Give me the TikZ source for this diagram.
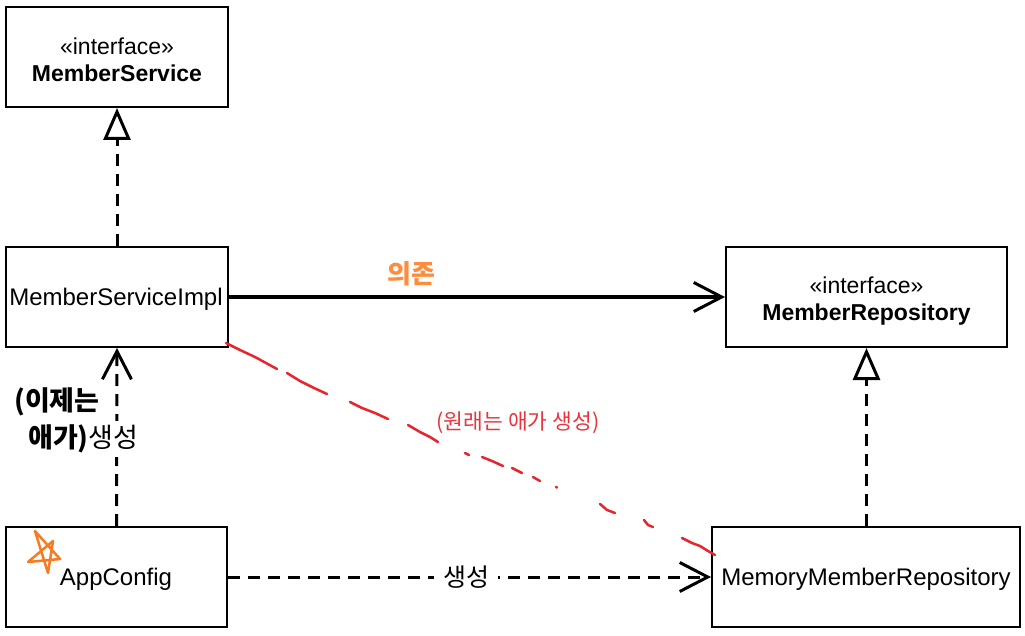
\documentclass[tikz,border=0pt]{standalone}
\usepackage{fontspec}
\setmainfont{Liberation Sans}
\newfontfamily\kr{Noto Sans CJK KR}
\usetikzlibrary{arrows.meta}
\definecolor{redline}{RGB}{232,36,44}
\definecolor{redtext}{RGB}{232,52,62}
\definecolor{orangetext}{RGB}{255,139,61}
\definecolor{starorange}{RGB}{246,124,36}
\tikzset{
  umlbox/.style={draw, line width=2pt, inner sep=0pt, minimum height=100pt},
  boxtext/.style={inner sep=0pt, font=\fontsize{24}{28}\selectfont},
  ifacetext/.style={inner sep=0pt, align=center, font=\fontsize{23}{27}\selectfont},
  conn/.style={line width=3pt},
  dashconn/.style={line width=3pt, dash pattern=on 12pt off 8pt},
  realize/.style={-{Triangle[open, length=32pt, width=27pt, line width=3pt]}},
  openarrow/.style={-{Straight Barb[length=28pt, width=29pt, line width=3pt]}},
  krlabel/.style={font=\kr\fontsize{25}{29}\selectfont, inner sep=0pt},
  redseg/.style={draw=redline, line width=2.5pt, line cap=round, line join=round}
}
\begin{document}
\begin{tikzpicture}[x=1pt,y=-1pt]
\useasboundingbox[fill=white] (0,0) rectangle (1025,636);

% boxes
\node[umlbox, minimum width=222pt] (ms) at (117,57) {};
\node[umlbox, minimum width=222pt] (impl) at (117,297) {};
\node[umlbox, minimum width=281pt] (repo) at (866.5,297) {};
\node[umlbox, minimum width=221pt] (app) at (116.5,577) {};
\node[umlbox, minimum width=308pt] (mem) at (866,577) {};

% box texts
\node[ifacetext] (ms-t) at (117,60) {«interface»\\\textbf{MemberService}};
\node[boxtext] (impl-t) at (116,299) {MemberServiceImpl};
\node[ifacetext] (repo-t) at (866.5,301) {«interface»\\\textbf{MemberRepository}};
\node[boxtext] (app-t) at (116,579) {AppConfig};
\node[boxtext] (mem-t) at (866,579) {MemoryMemberRepository};

% connectors
\draw[dashconn, realize] (impl.north) -- (ms.south);
\draw[conn, openarrow] (impl.east) -- (repo.west);
\draw[dashconn, openarrow] (app.north) -- (impl.south);
\draw[dashconn, openarrow] (app.east) -- (mem.west);
\draw[dashconn, realize] (mem.north -| repo.south) -- (repo.south);

% labels
\node[krlabel, text=orangetext, font=\kr\bfseries\fontsize{26}{30}\selectfont] (dep) at (411,274) {의존};
\node[krlabel, fill=white, inner xsep=9pt, inner ysep=4pt] (gen) at (466,577) {생성};
\node[krlabel, anchor=west, font=\kr\bfseries\fontsize{27}{31}\selectfont] (now1) at (14,402) {(이제는};
\node[krlabel, anchor=west, fill=white, inner xsep=1pt, inner ysep=4pt, font=\kr\fontsize{27}{31}\selectfont] (now2) at (27,439) {{\bfseries 애가)}생성};

% red hand-drawn dashed line
\draw[redseg] (226,343) -- (240,350) -- (255,357) -- (266,363) -- (277,369);
\draw[redseg] (287,373) -- (300,381) -- (314,388) -- (327,394);
\draw[redseg] (350,402) -- (362,408) -- (375,413) -- (388,419);
\draw[redseg] (408,425) -- (420,432) -- (430,437) -- (438,442);
\draw[redseg] (465,453) -- (469,455);
\draw[redseg] (482,457) -- (492,461) -- (503,466);
\draw[redseg] (512,468) -- (522,473);
\draw[redseg] (533,477) -- (540,481);
\draw[redseg] (556,487) -- (557,487.5);
\draw[redseg] (600,504) -- (607,510) -- (615,513);
\draw[redseg] (644,520) -- (648,525) -- (653,527);
\draw[redseg] (682,538) -- (692,543) -- (700,546) -- (708,551) -- (715,555);
\node[krlabel, text=redtext, font=\kr\fontsize{21.5}{25}\selectfont] (orig) at (518,423) {(원래는 애가 생성)};

% orange star
\draw[starorange, line width=2.5pt, line cap=round, line join=round]
  (35,531) -- (60,559) -- (28,562) -- (53,541) -- (48,573) -- cycle;
\end{tikzpicture}
\end{document}
